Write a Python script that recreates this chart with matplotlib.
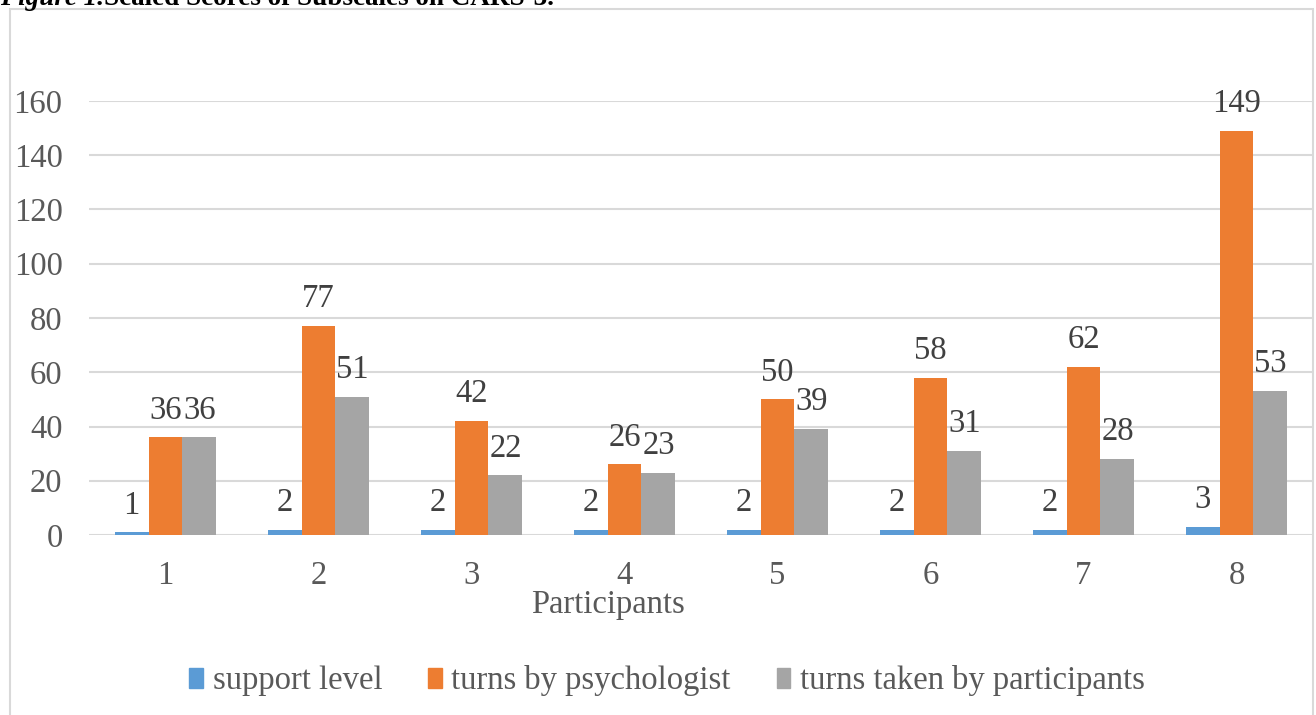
import matplotlib
matplotlib.use("Agg")
import matplotlib.pyplot as plt
import numpy as np
from matplotlib.patches import Rectangle, Patch

participants = ["1", "2", "3", "4", "5", "6", "7", "8"]
support_level = [1, 2, 2, 2, 2, 2, 2, 3]
turns_psychologist = [36, 77, 42, 26, 50, 58, 62, 149]
turns_participants = [36, 51, 22, 23, 39, 31, 28, 53]
series_names = ["support level", "turns by psychologist", "turns taken by participants"]
colors = ["#5B9BD5", "#ED7D31", "#A5A5A5"]
y_ticks = [0, 20, 40, 60, 80, 100, 120, 140, 160]

TXT = "#595959"
GRID = "#D9D9D9"
FS = 23.5

plt.rcParams["font.family"] = ["Liberation Serif", "DejaVu Serif"]

W, H = 1316, 715
fig = plt.figure(figsize=(W / 100, H / 100), dpi=100)

# chart frame and the caption running off the top edge
fig.patches.append(Rectangle((10 / W, -0.1), (1313 - 10) / W, 1.1 - 9 / H,
                             transform=fig.transFigure, fill=False,
                             edgecolor=GRID, lw=1.5))
fig.text(0, 1 - 5 / H, "Figure 1.", fontsize=19.5, fontweight="bold",
         fontstyle="italic", va="baseline", color="black")
fig.text(104 / W, 1 - 5 / H, "Scaled Scores of Subscales on CARS-3.",
         fontsize=19.5, fontweight="bold", va="baseline", color="black")

ax = fig.add_axes([89 / W, 1 - 535 / H, (1313 - 89) / W, (535 - 101) / H])

x = np.arange(len(participants))
w = 0.222
data = [support_level, turns_psychologist, turns_participants]
for i, (vals, c, name) in enumerate(zip(data, colors, series_names)):
    pos = x + (i - 1) * w
    bars = ax.bar(pos, vals, width=w, color=c, label=name, zorder=2)
    for b, v in zip(bars, vals):
        ax.annotate(str(v), (b.get_x() + b.get_width() / 2, v),
                    xytext=(0, 13.5), textcoords="offset points",
                    ha="center", va="baseline", fontsize=FS, color="#404040")

ax.set_xlim(-0.5, len(participants) - 0.5)
ax.set_ylim(0, 160)
ax.set_yticks(y_ticks)
ax.set_xticks(x)
ax.set_xticklabels(participants)
ax.yaxis.grid(True, color=GRID, lw=1.5, zorder=0)
ax.set_axisbelow(True)
for s in ax.spines.values():
    s.set_visible(False)
ax.tick_params(axis="both", length=0, labelsize=FS, colors=TXT)
ax.tick_params(axis="y", pad=19)
ax.tick_params(axis="x", pad=18)

fig.text(608 / W, 1 - 605 / H, "Participants", fontsize=FS, color=TXT,
         ha="center", va="center")

handles = [Patch(color=c) for c in colors]
fig.legend(handles, series_names, loc="center", bbox_to_anchor=(667 / W, 1 - 681 / H),
           ncol=3, frameon=False, fontsize=FS, labelcolor=TXT,
           handlelength=0.42, handleheight=0.55, handletextpad=0.3,
           columnspacing=1.4)

fig.savefig("out.png", dpi=100)
